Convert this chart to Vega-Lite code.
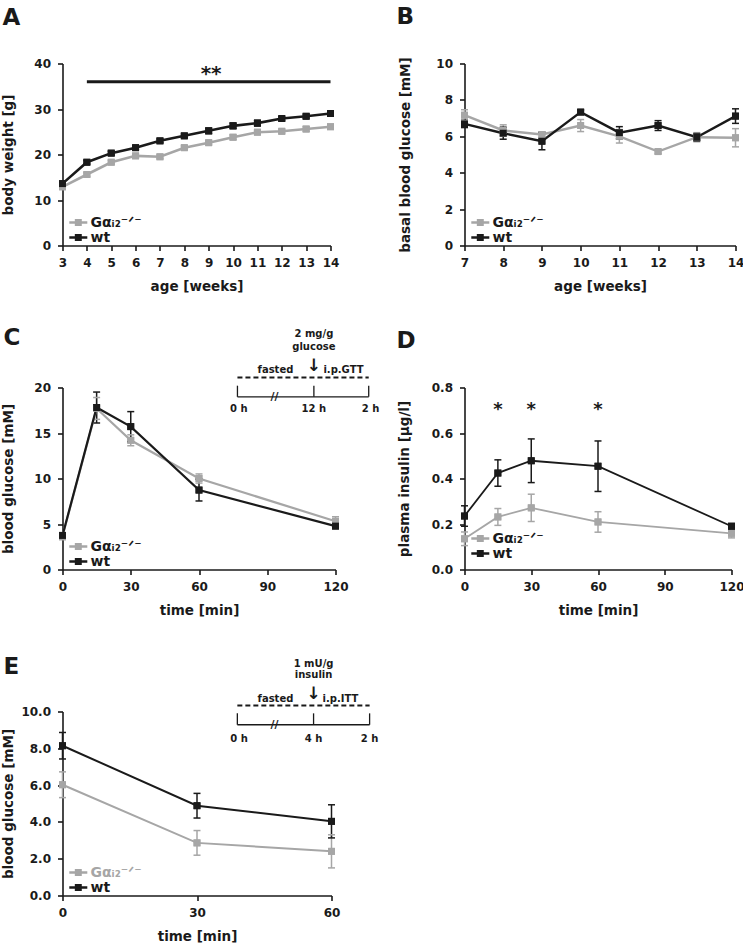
{
  "$schema": "https://vega.github.io/schema/vega-lite/v6.json",
  "padding": {"left": 0.5, "top": 5.5, "right": 0, "bottom": 0},
  "background": "white",
  "columns": 2,
  "bounds": "flush",
  "spacing": {"row": 142, "column": 129},
  "resolve": {"scale": {"color": "independent", "stroke": "independent", "fill": "independent"}, "legend": {"color": "independent"}},
  "datasets": {
    "A": [
      {"x":3,"group":"KO","y":12.9,"lo":12.5,"hi":13.3},
      {"x":4,"group":"KO","y":15.6,"lo":15.2,"hi":16.0},
      {"x":5,"group":"KO","y":18.3,"lo":17.9,"hi":18.7},
      {"x":6,"group":"KO","y":19.7,"lo":19.3,"hi":20.1},
      {"x":7,"group":"KO","y":19.5,"lo":19.1,"hi":19.9},
      {"x":8,"group":"KO","y":21.5,"lo":21.1,"hi":21.9},
      {"x":9,"group":"KO","y":22.6,"lo":22.2,"hi":23.0},
      {"x":10,"group":"KO","y":23.8,"lo":23.3,"hi":24.3},
      {"x":11,"group":"KO","y":24.9,"lo":24.5,"hi":25.3},
      {"x":12,"group":"KO","y":25.1,"lo":24.7,"hi":25.5},
      {"x":13,"group":"KO","y":25.6,"lo":25.1,"hi":26.1},
      {"x":14,"group":"KO","y":26.1,"lo":25.6,"hi":26.6},
      {"x":3,"group":"wt","y":13.6,"lo":13.2,"hi":14.0},
      {"x":4,"group":"wt","y":18.3,"lo":17.9,"hi":18.7},
      {"x":5,"group":"wt","y":20.3,"lo":19.9,"hi":20.7},
      {"x":6,"group":"wt","y":21.5,"lo":21.1,"hi":21.9},
      {"x":7,"group":"wt","y":23.0,"lo":22.6,"hi":23.4},
      {"x":8,"group":"wt","y":24.1,"lo":23.7,"hi":24.5},
      {"x":9,"group":"wt","y":25.2,"lo":24.6,"hi":25.8},
      {"x":10,"group":"wt","y":26.3,"lo":25.7,"hi":26.9},
      {"x":11,"group":"wt","y":26.9,"lo":26.3,"hi":27.5},
      {"x":12,"group":"wt","y":27.9,"lo":27.5,"hi":28.3},
      {"x":13,"group":"wt","y":28.4,"lo":28.0,"hi":28.8},
      {"x":14,"group":"wt","y":29.0,"lo":28.5,"hi":29.5}
    ],
    "B": [
      {"x":7,"group":"KO","y":7.16,"lo":6.86,"hi":7.46},
      {"x":8,"group":"KO","y":6.32,"lo":6.01,"hi":6.63},
      {"x":9,"group":"KO","y":6.1,"lo":5.95,"hi":6.25},
      {"x":10,"group":"KO","y":6.59,"lo":6.26,"hi":6.92},
      {"x":11,"group":"KO","y":6.0,"lo":5.63,"hi":6.37},
      {"x":12,"group":"KO","y":5.16,"lo":5.06,"hi":5.26},
      {"x":13,"group":"KO","y":5.95,"lo":5.7,"hi":6.2},
      {"x":14,"group":"KO","y":5.92,"lo":5.42,"hi":6.42},
      {"x":7,"group":"wt","y":6.68,"lo":6.48,"hi":6.88},
      {"x":8,"group":"wt","y":6.17,"lo":5.84,"hi":6.5},
      {"x":9,"group":"wt","y":5.73,"lo":5.26,"hi":6.2},
      {"x":10,"group":"wt","y":7.33,"lo":7.21,"hi":7.45},
      {"x":11,"group":"wt","y":6.2,"lo":5.87,"hi":6.53},
      {"x":12,"group":"wt","y":6.59,"lo":6.32,"hi":6.86},
      {"x":13,"group":"wt","y":5.95,"lo":5.75,"hi":6.15},
      {"x":14,"group":"wt","y":7.11,"lo":6.71,"hi":7.51}
    ],
    "C": [
      {"x":0,"group":"KO","y":3.67,"lo":3.27,"hi":4.07},
      {"x":15,"group":"KO","y":17.7,"lo":16.5,"hi":18.9},
      {"x":30,"group":"KO","y":14.2,"lo":13.6,"hi":14.8},
      {"x":60,"group":"KO","y":10.0,"lo":9.5,"hi":10.5},
      {"x":120,"group":"KO","y":5.3,"lo":4.8,"hi":5.8},
      {"x":0,"group":"wt","y":3.74,"lo":3.44,"hi":4.04},
      {"x":15,"group":"wt","y":17.8,"lo":16.1,"hi":19.5},
      {"x":30,"group":"wt","y":15.7,"lo":14.05,"hi":17.35},
      {"x":60,"group":"wt","y":8.73,"lo":7.53,"hi":9.93},
      {"x":120,"group":"wt","y":4.77,"lo":4.57,"hi":4.97}
    ],
    "D": [
      {"x":0,"group":"KO","y":0.135,"lo":0.105,"hi":0.165},
      {"x":15,"group":"KO","y":0.231,"lo":0.194,"hi":0.268},
      {"x":30,"group":"KO","y":0.271,"lo":0.211,"hi":0.331},
      {"x":60,"group":"KO","y":0.209,"lo":0.164,"hi":0.254},
      {"x":120,"group":"KO","y":0.159,"lo":0.139,"hi":0.179},
      {"x":0,"group":"wt","y":0.235,"lo":0.19,"hi":0.28},
      {"x":15,"group":"wt","y":0.424,"lo":0.366,"hi":0.482},
      {"x":30,"group":"wt","y":0.478,"lo":0.382,"hi":0.574},
      {"x":60,"group":"wt","y":0.454,"lo":0.343,"hi":0.565},
      {"x":120,"group":"wt","y":0.19,"lo":0.178,"hi":0.202}
    ],
    "E": [
      {"x":0,"group":"KO","y":6.02,"lo":5.32,"hi":6.72},
      {"x":30,"group":"KO","y":2.86,"lo":2.19,"hi":3.53},
      {"x":60,"group":"KO","y":2.4,"lo":1.5,"hi":3.3},
      {"x":0,"group":"wt","y":8.14,"lo":7.42,"hi":8.86},
      {"x":30,"group":"wt","y":4.88,"lo":4.21,"hi":5.55},
      {"x":60,"group":"wt","y":4.03,"lo":3.13,"hi":4.93}
    ]
  },
  "concat": [
    {
      "width": 268, "height": 182,
      "title": {"text": "A", "anchor": "start", "frame": "group", "dx": -60, "offset": 27.5},
      "encoding": {
        "x": {"field": "x", "type": "quantitative", "title": "age [weeks]", "scale": {"domain": [3, 14], "nice": false, "zero": false}, "axis": {"values": [3,4,5,6,7,8,9,10,11,12,13,14]}},
        "y": {"field": "y", "type": "quantitative", "title": "body weight [g]", "scale": {"domain": [0, 40], "nice": false}, "axis": {"values": [0,10,20,30,40], "titleX": -47}}
      },
      "layer": [
        {"data": {"name": "A"}, "mark": {"type": "point", "shape": "square", "filled": true, "size": 48, "opacity": 1}, "encoding": {"color": {"field": "group", "type": "nominal", "scale": {"domain": ["KO","wt"], "range": ["#a6a6a6","#1a1a1a"]}, "legend": {"title": null, "orient": "none", "legendX": 1, "legendY": 152, "labelExpr": "datum.value === 'KO' ? 'Gαᵢ₂⁻ᐟ⁻' : 'wt'"}}}},
        {"data": {"name": "A"}, "mark": {"type": "rule", "strokeWidth": 1.5}, "encoding": {"y2": {"field": "hi"}, "stroke": {"field": "group", "type": "nominal", "scale": {"domain": ["KO","wt"], "range": ["#a6a6a6","#1a1a1a"]}, "legend": null}}},
        {"data": {"name": "A"}, "mark": {"type": "rule", "strokeWidth": 1.5}, "encoding": {"y2": {"field": "lo"}, "stroke": {"field": "group", "type": "nominal", "legend": null}}},
        {"data": {"name": "A"}, "mark": {"type": "tick", "orient": "horizontal", "size": 7, "thickness": 1.5, "opacity": 1}, "encoding": {"y": {"field": "hi", "type": "quantitative", "title": "body weight [g]"}, "fill": {"field": "group", "type": "nominal", "scale": {"domain": ["KO","wt"], "range": ["#a6a6a6","#1a1a1a"]}, "legend": null}}},
        {"data": {"name": "A"}, "mark": {"type": "tick", "orient": "horizontal", "size": 7, "thickness": 1.5, "opacity": 1}, "encoding": {"y": {"field": "lo", "type": "quantitative", "title": "body weight [g]"}, "fill": {"field": "group", "type": "nominal", "legend": null}}},
        {"data": {"name": "A"}, "mark": {"type": "line", "strokeWidth": 2.6}, "encoding": {"stroke": {"field": "group", "type": "nominal", "legend": null}}},
        {"data": {"name": "A"}, "mark": {"type": "point", "shape": "square", "filled": true, "size": 48, "opacity": 1, "strokeWidth": 0}, "encoding": {"fill": {"field": "group", "type": "nominal", "legend": null}}},
        {"data": {"values": [{"x": 4, "x2": 14, "y": 36}]}, "mark": {"type": "rule", "strokeWidth": 3, "color": "#1a1a1a"}, "encoding": {"x2": {"field": "x2"}}},
        {"data": {"values": [{"x": 9.1, "y": 36.3, "label": "**"}]}, "mark": {"type": "text", "fontSize": 20, "fontWeight": "bold", "baseline": "alphabetic", "color": "#1a1a1a"}, "encoding": {"text": {"field": "label"}}}
      ]
    },
    {
      "width": 271, "height": 182,
      "title": {"text": "B", "anchor": "start", "frame": "group", "dx": -68, "offset": 27.5},
      "encoding": {
        "x": {"field": "x", "type": "quantitative", "title": "age [weeks]", "scale": {"domain": [7, 14], "nice": false, "zero": false}, "axis": {"values": [7,8,9,10,11,12,13,14]}},
        "y": {"field": "y", "type": "quantitative", "title": "basal blood glucose [mM]", "scale": {"domain": [0, 10], "nice": false}, "axis": {"values": [0,2,4,6,8,10], "titleX": -52}}
      },
      "layer": [
        {"data": {"name": "B"}, "mark": {"type": "point", "shape": "square", "filled": true, "size": 48, "opacity": 1}, "encoding": {"color": {"field": "group", "type": "nominal", "scale": {"domain": ["KO","wt"], "range": ["#a6a6a6","#1a1a1a"]}, "legend": {"title": null, "orient": "none", "legendX": 1, "legendY": 152, "labelExpr": "datum.value === 'KO' ? 'Gαᵢ₂⁻ᐟ⁻' : 'wt'"}}}},
        {"data": {"name": "B"}, "mark": {"type": "rule", "strokeWidth": 1.5}, "encoding": {"y2": {"field": "hi"}, "stroke": {"field": "group", "type": "nominal", "scale": {"domain": ["KO","wt"], "range": ["#a6a6a6","#1a1a1a"]}, "legend": null}}},
        {"data": {"name": "B"}, "mark": {"type": "rule", "strokeWidth": 1.5}, "encoding": {"y2": {"field": "lo"}, "stroke": {"field": "group", "type": "nominal", "legend": null}}},
        {"data": {"name": "B"}, "mark": {"type": "tick", "orient": "horizontal", "size": 7, "thickness": 1.5, "opacity": 1}, "encoding": {"y": {"field": "hi", "type": "quantitative", "title": "basal blood glucose [mM]"}, "fill": {"field": "group", "type": "nominal", "scale": {"domain": ["KO","wt"], "range": ["#a6a6a6","#1a1a1a"]}, "legend": null}}},
        {"data": {"name": "B"}, "mark": {"type": "tick", "orient": "horizontal", "size": 7, "thickness": 1.5, "opacity": 1}, "encoding": {"y": {"field": "lo", "type": "quantitative", "title": "basal blood glucose [mM]"}, "fill": {"field": "group", "type": "nominal", "legend": null}}},
        {"data": {"name": "B"}, "mark": {"type": "line", "strokeWidth": 2.4}, "encoding": {"stroke": {"field": "group", "type": "nominal", "legend": null}}},
        {"data": {"name": "B"}, "mark": {"type": "point", "shape": "square", "filled": true, "size": 48, "opacity": 1, "strokeWidth": 0}, "encoding": {"fill": {"field": "group", "type": "nominal", "legend": null}}}
      ]
    },
    {
      "width": 273, "height": 182,
      "title": {"text": "C", "anchor": "start", "frame": "group", "dx": -59, "offset": 36, "dy": 57.5},
      "encoding": {
        "x": {"field": "x", "type": "quantitative", "title": "time [min]", "scale": {"domain": [0, 120], "nice": false, "zero": false}, "axis": {"values": [0,30,60,90,120]}},
        "y": {"field": "y", "type": "quantitative", "title": "blood glucose [mM]", "scale": {"domain": [0, 20], "nice": false}, "axis": {"values": [0,5,10,15,20], "titleX": -47}}
      },
      "layer": [
        {"data": {"name": "C"}, "mark": {"type": "point", "shape": "square", "filled": true, "size": 48, "opacity": 1}, "encoding": {"color": {"field": "group", "type": "nominal", "scale": {"domain": ["KO","wt"], "range": ["#a6a6a6","#1a1a1a"]}, "legend": {"title": null, "orient": "none", "legendX": 1, "legendY": 152, "labelExpr": "datum.value === 'KO' ? 'Gαᵢ₂⁻ᐟ⁻' : 'wt'"}}}},
        {"data": {"name": "C"}, "mark": {"type": "rule", "strokeWidth": 1.5}, "encoding": {"y2": {"field": "hi"}, "stroke": {"field": "group", "type": "nominal", "scale": {"domain": ["KO","wt"], "range": ["#a6a6a6","#1a1a1a"]}, "legend": null}}},
        {"data": {"name": "C"}, "mark": {"type": "rule", "strokeWidth": 1.5}, "encoding": {"y2": {"field": "lo"}, "stroke": {"field": "group", "type": "nominal", "legend": null}}},
        {"data": {"name": "C"}, "mark": {"type": "tick", "orient": "horizontal", "size": 7, "thickness": 1.5, "opacity": 1}, "encoding": {"y": {"field": "hi", "type": "quantitative", "title": "blood glucose [mM]"}, "fill": {"field": "group", "type": "nominal", "scale": {"domain": ["KO","wt"], "range": ["#a6a6a6","#1a1a1a"]}, "legend": null}}},
        {"data": {"name": "C"}, "mark": {"type": "tick", "orient": "horizontal", "size": 7, "thickness": 1.5, "opacity": 1}, "encoding": {"y": {"field": "lo", "type": "quantitative", "title": "blood glucose [mM]"}, "fill": {"field": "group", "type": "nominal", "legend": null}}},
        {"data": {"name": "C"}, "mark": {"type": "line", "strokeWidth": 2.2}, "encoding": {"stroke": {"field": "group", "type": "nominal", "legend": null}}},
        {"data": {"name": "C"}, "mark": {"type": "point", "shape": "square", "filled": true, "size": 48, "opacity": 1, "strokeWidth": 0}, "encoding": {"fill": {"field": "group", "type": "nominal", "legend": null}}},
        {"data": {"values": [{"x": 76.9, "x2": 134.6, "y": 21.1}]}, "mark": {"type": "rule", "strokeWidth": 2, "strokeDash": [5, 3], "color": "#1a1a1a"}, "encoding": {"x2": {"field": "x2"}}},
        {"data": {"values": [{"x": 76.9, "x2": 134.6, "y": 18.97}]}, "mark": {"type": "rule", "strokeWidth": 1.3, "color": "#1a1a1a"}, "encoding": {"x2": {"field": "x2"}}},
        {"data": {"values": [{"x": 76.9, "y": 18.97, "y2": 20.2}, {"x": 110.5, "y": 18.97, "y2": 20.2}, {"x": 134.6, "y": 18.97, "y2": 20.2}]}, "mark": {"type": "rule", "strokeWidth": 1.3, "color": "#1a1a1a"}, "encoding": {"y2": {"field": "y2"}}},
        {"data": {"values": [
          {"x": 77.5, "y": 17.6, "label": "0 h"},
          {"x": 110.5, "y": 17.6, "label": "12 h"},
          {"x": 135.4, "y": 17.6, "label": "2 h"},
          {"x": 93.6, "y": 21.9, "label": "fasted"},
          {"x": 123.5, "y": 21.9, "label": "i.p.GTT"},
          {"x": 110.5, "y": 24.5, "label": "glucose"},
          {"x": 110.5, "y": 25.9, "label": "2 mg/g"}
        ]}, "mark": {"type": "text", "fontSize": 10, "fontWeight": "bold", "baseline": "middle", "color": "#1a1a1a"}, "encoding": {"text": {"field": "label"}}},
        {"data": {"values": [{"x": 110.5, "y": 22.4, "label": "↓"}]}, "mark": {"type": "text", "fontSize": 17, "fontWeight": "bold", "baseline": "middle", "color": "#1a1a1a"}, "encoding": {"text": {"field": "label"}}},
        {"data": {"values": [{"x": 93.2, "y": 18.97, "label": "//"}]}, "mark": {"type": "text", "fontSize": 11, "fontWeight": "bold", "baseline": "middle", "color": "#1a1a1a"}, "encoding": {"text": {"field": "label"}}}
      ]
    },
    {
      "width": 267, "height": 182,
      "title": {"text": "D", "anchor": "start", "frame": "group", "dx": -68, "offset": 28.5},
      "encoding": {
        "x": {"field": "x", "type": "quantitative", "title": "time [min]", "scale": {"domain": [0, 120], "nice": false, "zero": false}, "axis": {"values": [0,30,60,90,120]}},
        "y": {"field": "y", "type": "quantitative", "title": "plasma insulin [µg/l]", "scale": {"domain": [0, 0.8], "nice": false}, "axis": {"values": [0,0.2,0.4,0.6,0.8], "format": ".1f", "titleX": -53}}
      },
      "layer": [
        {"data": {"name": "D"}, "mark": {"type": "point", "shape": "square", "filled": true, "size": 48, "opacity": 1}, "encoding": {"color": {"field": "group", "type": "nominal", "scale": {"domain": ["KO","wt"], "range": ["#a6a6a6","#1a1a1a"]}, "legend": {"title": null, "orient": "none", "legendX": 1, "legendY": 144, "labelExpr": "datum.value === 'KO' ? 'Gαᵢ₂⁻ᐟ⁻' : 'wt'"}}}},
        {"data": {"name": "D"}, "mark": {"type": "rule", "strokeWidth": 1.5}, "encoding": {"y2": {"field": "hi"}, "stroke": {"field": "group", "type": "nominal", "scale": {"domain": ["KO","wt"], "range": ["#a6a6a6","#1a1a1a"]}, "legend": null}}},
        {"data": {"name": "D"}, "mark": {"type": "rule", "strokeWidth": 1.5}, "encoding": {"y2": {"field": "lo"}, "stroke": {"field": "group", "type": "nominal", "legend": null}}},
        {"data": {"name": "D"}, "mark": {"type": "tick", "orient": "horizontal", "size": 7, "thickness": 1.5, "opacity": 1}, "encoding": {"y": {"field": "hi", "type": "quantitative", "title": "plasma insulin [µg/l]"}, "fill": {"field": "group", "type": "nominal", "scale": {"domain": ["KO","wt"], "range": ["#a6a6a6","#1a1a1a"]}, "legend": null}}},
        {"data": {"name": "D"}, "mark": {"type": "tick", "orient": "horizontal", "size": 7, "thickness": 1.5, "opacity": 1}, "encoding": {"y": {"field": "lo", "type": "quantitative", "title": "plasma insulin [µg/l]"}, "fill": {"field": "group", "type": "nominal", "legend": null}}},
        {"data": {"name": "D"}, "mark": {"type": "line", "strokeWidth": 1.8}, "encoding": {"stroke": {"field": "group", "type": "nominal", "legend": null}}},
        {"data": {"name": "D"}, "mark": {"type": "point", "shape": "square", "filled": true, "size": 48, "opacity": 1, "strokeWidth": 0}, "encoding": {"fill": {"field": "group", "type": "nominal", "legend": null}}},
        {"data": {"values": [{"x": 15, "y": 0.68, "label": "*"}, {"x": 30, "y": 0.68, "label": "*"}, {"x": 60, "y": 0.68, "label": "*"}]}, "mark": {"type": "text", "fontSize": 18, "fontWeight": "bold", "baseline": "alphabetic", "color": "#1a1a1a"}, "encoding": {"text": {"field": "label"}}}
      ]
    },
    {
      "width": 269, "height": 184,
      "title": {"text": "E", "anchor": "start", "frame": "group", "dx": -59, "offset": 30, "dy": 50},
      "encoding": {
        "x": {"field": "x", "type": "quantitative", "title": "time [min]", "scale": {"domain": [0, 60], "nice": false, "zero": false}, "axis": {"values": [0,30,60]}},
        "y": {"field": "y", "type": "quantitative", "title": "blood glucose [mM]", "scale": {"domain": [0, 10], "nice": false}, "axis": {"values": [0,2,4,6,8,10], "format": ".1f", "titleX": -47}}
      },
      "layer": [
        {"data": {"name": "E"}, "mark": {"type": "point", "shape": "square", "filled": true, "size": 48, "opacity": 1}, "encoding": {"color": {"field": "group", "type": "nominal", "scale": {"domain": ["KO","wt"], "range": ["#a6a6a6","#1a1a1a"]}, "legend": {"title": null, "orient": "none", "legendX": 1, "legendY": 154, "labelExpr": "datum.value === 'KO' ? 'Gαᵢ₂⁻ᐟ⁻' : 'wt'", "labelColor": {"expr": "datum.value === 'KO' ? '#a6a6a6' : '#1a1a1a'"}}}}},
        {"data": {"name": "E"}, "mark": {"type": "rule", "strokeWidth": 1.5}, "encoding": {"y2": {"field": "hi"}, "stroke": {"field": "group", "type": "nominal", "scale": {"domain": ["KO","wt"], "range": ["#a6a6a6","#1a1a1a"]}, "legend": null}}},
        {"data": {"name": "E"}, "mark": {"type": "rule", "strokeWidth": 1.5}, "encoding": {"y2": {"field": "lo"}, "stroke": {"field": "group", "type": "nominal", "legend": null}}},
        {"data": {"name": "E"}, "mark": {"type": "tick", "orient": "horizontal", "size": 7, "thickness": 1.5, "opacity": 1}, "encoding": {"y": {"field": "hi", "type": "quantitative", "title": "blood glucose [mM]"}, "fill": {"field": "group", "type": "nominal", "scale": {"domain": ["KO","wt"], "range": ["#a6a6a6","#1a1a1a"]}, "legend": null}}},
        {"data": {"name": "E"}, "mark": {"type": "tick", "orient": "horizontal", "size": 7, "thickness": 1.5, "opacity": 1}, "encoding": {"y": {"field": "lo", "type": "quantitative", "title": "blood glucose [mM]"}, "fill": {"field": "group", "type": "nominal", "legend": null}}},
        {"data": {"name": "E"}, "mark": {"type": "line", "strokeWidth": 2}, "encoding": {"stroke": {"field": "group", "type": "nominal", "legend": null}}},
        {"data": {"name": "E"}, "mark": {"type": "point", "shape": "square", "filled": true, "size": 48, "opacity": 1, "strokeWidth": 0}, "encoding": {"fill": {"field": "group", "type": "nominal", "legend": null}}},
        {"data": {"values": [{"x": 39.0, "x2": 68.5, "y": 10.33}]}, "mark": {"type": "rule", "strokeWidth": 2, "strokeDash": [5, 3], "color": "#1a1a1a"}, "encoding": {"x2": {"field": "x2"}}},
        {"data": {"values": [{"x": 39.0, "x2": 68.5, "y": 9.28}]}, "mark": {"type": "rule", "strokeWidth": 1.3, "color": "#1a1a1a"}, "encoding": {"x2": {"field": "x2"}}},
        {"data": {"values": [{"x": 39.0, "y": 9.28, "y2": 9.9}, {"x": 56.0, "y": 9.28, "y2": 9.9}, {"x": 68.5, "y": 9.28, "y2": 9.9}]}, "mark": {"type": "rule", "strokeWidth": 1.3, "color": "#1a1a1a"}, "encoding": {"y2": {"field": "y2"}}},
        {"data": {"values": [
          {"x": 39.4, "y": 8.53, "label": "0 h"},
          {"x": 56.0, "y": 8.53, "label": "4 h"},
          {"x": 68.5, "y": 8.53, "label": "2 h"},
          {"x": 47.5, "y": 10.7, "label": "fasted"},
          {"x": 62.0, "y": 10.7, "label": "i.p.ITT"},
          {"x": 56.0, "y": 12.0, "label": "insulin"},
          {"x": 56.0, "y": 12.6, "label": "1 mU/g"}
        ]}, "mark": {"type": "text", "fontSize": 10, "fontWeight": "bold", "baseline": "middle", "color": "#1a1a1a"}, "encoding": {"text": {"field": "label"}}},
        {"data": {"values": [{"x": 56.0, "y": 10.95, "label": "↓"}]}, "mark": {"type": "text", "fontSize": 17, "fontWeight": "bold", "baseline": "middle", "color": "#1a1a1a"}, "encoding": {"text": {"field": "label"}}},
        {"data": {"values": [{"x": 47.3, "y": 9.28, "label": "//"}]}, "mark": {"type": "text", "fontSize": 11, "fontWeight": "bold", "baseline": "middle", "color": "#1a1a1a"}, "encoding": {"text": {"field": "label"}}}
      ]
    }
  ],
  "config": {
    "font": "DejaVu Sans",
    "view": {"stroke": null},
    "title": {"font": "DejaVu Sans", "fontSize": 23, "fontWeight": "bold", "color": "#1a1a1a"},
    "axis": {
      "grid": false,
      "domainColor": "#1a1a1a", "domainWidth": 1.6,
      "tickColor": "#1a1a1a", "tickWidth": 1.6, "tickSize": 5,
      "labelFont": "DejaVu Sans", "labelFontSize": 12, "labelFontWeight": "bold", "labelColor": "#1a1a1a", "labelPadding": 7,
      "labelFlush": false, "labelOverlap": false,
      "titleFont": "DejaVu Sans", "titleFontSize": 13.5, "titleFontWeight": "bold", "titleColor": "#1a1a1a", "titlePadding": 11
    },
    "legend": {
      "symbolType": "M-0.2,-0.2H2.8V0.2H-0.2Z M0.72,-0.58H1.88V0.58H0.72Z",
      "symbolSize": 144,
      "symbolStrokeWidth": 0,
      "labelFont": "DejaVu Sans", "labelFontSize": 14, "labelFontWeight": "bold", "labelColor": "#1a1a1a",
      "labelOffset": 13, "rowPadding": 1, "padding": 0
    }
  }
}
